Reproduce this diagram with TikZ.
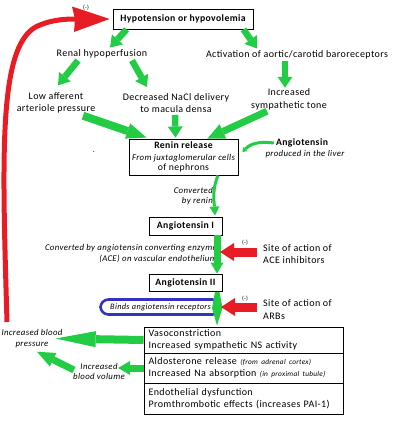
\documentclass[tikz,border=0pt]{standalone}
\usepackage{fontspec}
\setmainfont{Carlito}[LetterSpace=4]
\usetikzlibrary{arrows.meta,shadows}
\definecolor{gr}{RGB}{34,204,68}
\definecolor{rd}{RGB}{232,28,36}
\definecolor{bl}{RGB}{51,51,190}
\begin{document}
\begin{tikzpicture}[x=1pt,y=-1pt,
  txt/.style={inner sep=1pt, font=\fontsize{10}{12.5}\selectfont, align=center},
  itx/.style={inner sep=1pt, font=\fontsize{8.8}{10.5}\selectfont\itshape, align=center},
  minus/.style={inner sep=0pt, font=\fontsize{6}{7}\selectfont},
  bx/.style={draw, line width=0.9pt, fill=white, inner sep=1pt,
     general shadow={fill=black!40, shadow xshift=1.1pt, shadow yshift=-1.1pt}},
  bld/.style={font=\fontsize{9.7}{11}\selectfont\bfseries},
  row/.style={bx, minimum width=199pt, text width=190pt, inner xsep=4.5pt, align=left,
     font=\fontsize{10}{11.5}\selectfont},
  garrow/.style n args={3}{draw=gr, line width=#1, line cap=butt,
     -{Triangle[length=#2,width=#3,line width=0pt,fill=gr]}},
  rarrow/.style={draw=rd, line width=9pt, line cap=butt,
     -{Triangle[length=14pt,width=18pt,line width=0pt,fill=rd]}}]
\useasboundingbox (0,0) rectangle (400,426);

% nodes
\node[bx, bld, minimum width=140pt, minimum height=20pt] (hyp) at (183,19) {Hypotension or hypovolemia};
\node[minus] (m0) at (86,8) {(-)};
\node[txt] (renal) at (102,54) {Renal hypoperfusion};
\node[txt] (baro) at (297,55) {Activation of aortic/carotid baroreceptors};
\node[txt] (symp) at (289,99.5) {Increased\\sympathetic tone};
\node[txt] (low) at (56,103) {Low afferent\\arteriole pressure};
\node[txt] (nacl) at (176,103) {Decreased NaCl delivery\\to macula densa};
\node[bx, minimum width=109pt, minimum height=36pt, align=center, font=\fontsize{9.7}{10}\selectfont] (renin) at (183.5,157)
  {\bfseries Renin release\\[1.5pt]\fontsize{8.8}{9.5}\selectfont\mdseries\itshape From juxtaglomerular cells\\ of nephrons};
\node[inner sep=0pt, font=\fontsize{8}{8}\selectfont] (dot) at (94,152) {.};
\node[txt, bld] (angio) at (302,143) {Angiotensin};
\node[itx] (liver) at (305,154.5) {produced in the liver};
\node[itx, anchor=east, align=right] (conv1) at (214,196) {Converted\\by renin};
\node[bx, bld, minimum width=73pt, minimum height=18pt] (a1) at (185.5,226) {Angiotensin I};
\node[itx, anchor=east, align=right] (conv2) at (218,253.5) {Converted by angiotensin converting enzyme\\(ACE) on vascular endothelium};
\node[txt, anchor=west, align=left] (ace) at (262,254) {Site of action of\\ACE inhibitors};
\node[minus] (m1) at (245,243) {(-)};
\node[bx, bld, minimum width=73pt, minimum height=17pt] (a2) at (185.5,282.5) {Angiotensin II};
\node[draw=bl, line width=2.6pt, rounded corners=8pt, minimum width=120pt, minimum height=15pt, inner sep=0pt,
  font=\fontsize{8.3}{9}\selectfont\itshape] (binds) at (160.5,307) {Binds angiotensin receptors};
\node[txt, anchor=west, align=left] (arb) at (262,309.5) {Site of action of\\ARBs};
\node[minus] (m2) at (245,299) {(-)};
\node[row, minimum height=26pt] (r1) at (243.5,340) {Vasoconstriction\\Increased sympathetic NS activity};
\node[row, minimum height=30pt] (r2) at (243.5,368) {Aldosterone release {\fontsize{7.3}{8}\selectfont\itshape (from adrenal cortex)}\\Increased Na absorption {\fontsize{7.3}{8}\selectfont\itshape (in proximal tubule)}};
\node[row, minimum height=31pt] (r3) at (243.5,398.5) {Endothelial dysfunction\\Promthrombotic effects (increases PAI-1)};
\node[itx] (bp) at (32,338.5) {Increased blood\\pressure};
\node[itx] (bv) at (99,371.5) {Increased\\blood volume};

% green arrows
\draw[garrow={6.5pt}{11pt}{15pt}] ([xshift=14pt]hyp.south west) -- ([shift={(8,-1)}]renal.north);
\draw[garrow={6.5pt}{11pt}{15pt}] ([xshift=-10pt]hyp.south east) -- ([shift={(-40,-1)}]baro.north);
\draw[garrow={6.5pt}{11pt}{15pt}] ([shift={(-12,1)}]baro.south) -- ([shift={(-4,0)}]symp.north);
\draw[garrow={7pt}{17pt}{16pt}] ([shift={(-22,0)}]symp.south) -- ([shift={(-31,0)}]renin.north east);
\draw[garrow={6.5pt}{11pt}{15pt}] ([shift={(-24,1)}]renal.south) -- ([shift={(2,-6)}]low.north);
\draw[garrow={6.5pt}{11pt}{15pt}] ([shift={(30,1)}]renal.south) -- ([shift={(-29,-5)}]nacl.north);
\draw[garrow={6.5pt}{11pt}{15pt}] ([shift={(-1,1)}]nacl.south) -- ([shift={(-8,-1)}]renin.north);
\draw[garrow={8pt}{20pt}{16pt}] ([shift={(27,1)}]low.south) -- ([shift={(18,-1)}]renin.north west);
\draw[draw=gr, line width=3pt, -{Triangle[length=4pt,width=6pt,line width=0pt,fill=gr]}]
  ([xshift=-1pt]angio.west) .. controls (258,141) and (250,144) .. ([shift={(4,-5)}]renin.east);
\draw[draw=gr, line width=3pt, -{Triangle[length=9pt,width=10pt,line width=0pt,fill=gr]}]
  ([shift={(34.5,0)}]renin.south) .. controls (212,190) and (214,200) .. ([shift={(29.5,-1)}]a1.north);
\draw[garrow={7pt}{11pt}{13pt}] ([shift={(31.5,0)}]a1.south) -- ([shift={(31.5,0)}]a2.north);
\draw[garrow={8pt}{40pt}{16pt}] (r1.west) -- ([shift={(-8,0)}]bp.east);
\draw[garrow={7pt}{12pt}{14pt}] (r2.west) -- ([shift={(-8,-3.5)}]bv.east);
\draw[garrow={7pt}{18pt}{15pt}] ([shift={(2,-1.5)}]bv.west) -- ([shift={(5,3)}]bp.south);

% green lozenge between Angiotensin II and the effects
\fill[gr] ([shift={(29.5,0.5)}]a2.south) -- ([shift={(34,0.5)}]a2.south) -- (222.5,308) -- ([shift={(-26.5,-1)}]r1.north) -- (212,308) -- cycle;

% red arrows
\coordinate (aceTip) at (220,252);
\coordinate (arbTip) at (221,307);
\draw[rarrow] ([xshift=-5pt]ace.west |- aceTip) -- (aceTip);
\draw[rarrow] ([xshift=-5pt]arb.west |- arbTip) -- (arbTip);

% red feedback arrow
\coordinate (fb) at (7,322);
\coordinate (fbend) at (76,19);
\draw[draw=rd, line width=5pt, line cap=butt]
  (fb) .. controls (2,150) and (-2,40) .. (40,25) .. controls (52,20) and (64,19) .. (fbend);
\fill[rd] ([xshift=-3pt]hyp.west) -- (72,6.5) -- (75,19) -- (74,32) -- cycle;
\end{tikzpicture}
\end{document}
